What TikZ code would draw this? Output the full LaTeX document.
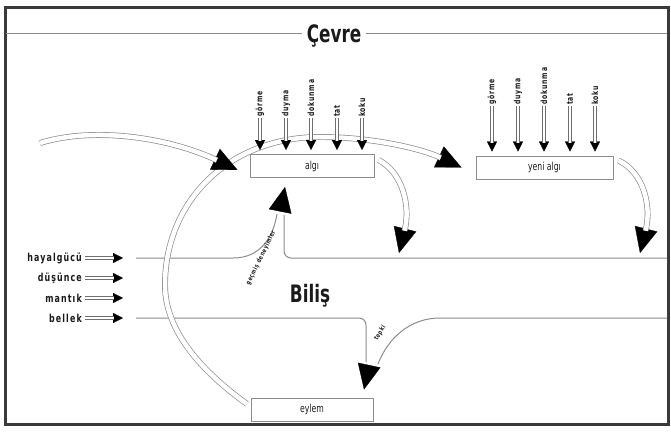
\documentclass[tikz,border=0pt]{standalone}
\usepackage{fontspec}
\setmainfont{DejaVu Sans Condensed}[FakeStretch=0.78]
\newfontfamily\spacedfont{DejaVu Sans Condensed}[FakeStretch=0.8, LetterSpace=10]
\usetikzlibrary{calc, arrows.meta, positioning}
\definecolor{cline}{HTML}{8C8C8C}
\definecolor{cshaft}{HTML}{6E6E6E}
\definecolor{cframe}{HTML}{3A3A3A}
\definecolor{cbk}{HTML}{1A1A1A}

\begin{document}
\begin{tikzpicture}[x=1pt, y=-1pt]
    \useasboundingbox (0,0) rectangle (671,431);
    \begin{scope}[
        stagebox/.style={rectangle, draw=cline, line width=0.9pt, fill=white, minimum height=23pt, inner sep=0pt, font=\fontsize{11}{13}\selectfont\color{cbk}},
        titlelabel/.style={font=\fontsize{24}{28}\selectfont\bfseries\color{cbk}, inner sep=0pt},
        senselabel/.style={font=\spacedfont\fontsize{8.5}{10}\selectfont\bfseries\color{cbk}, rotate=90, anchor=west, inner sep=1pt},
        inputlabel/.style={font=\spacedfont\fontsize{11}{13}\selectfont\bfseries\color{cbk}, anchor=east, inner sep=1pt},
        flowlabel/.style={font=\spacedfont\fontsize{6.5}{8}\selectfont\bfseries\color{cbk}, inner sep=0pt},
        wall/.style={draw=cline, line width=1pt, rounded corners=7pt},
        hollow/.style={draw=cline, line width=0.7pt, double=white, double distance=4.5pt, shorten >=23pt,
            preaction={draw=black, line width=0.3pt, shorten >=0pt, -{Triangle[length=25pt, width=23pt]}}},
        thinhollow/.style={draw=cshaft, line width=0.8pt, double=white, double distance=2.2pt, shorten >=9pt,
            preaction={draw=black, line width=0.3pt, shorten >=0pt, -{Triangle[length=10pt, width=10pt]}}},
        bigtip/.style={draw=black, line width=0.3pt, -{Triangle[length=25pt, width=23pt]}}
    ]
        % ================= frame and title =================
        \draw[cframe, line width=3pt] (5,7) rectangle (668,424);
        \draw[cline, line width=0.8pt] (6,33) -- (667,33);
        \node[titlelabel, fill=white, inner xsep=5pt, anchor=base] (cevre) at (334,42) {Çevre};

        % ================= boxes =================
        \node[stagebox, minimum width=124pt] (algi) at (312,166) {algı};
        \node[stagebox, minimum width=137pt] (yeni) at (544.5,167.5) {yeni algı};
        \node[stagebox, minimum width=122pt] (eylem) at (312,409.5) {eylem};

        \coordinate (inTip) at ($(algi.west)+(-12,4)$);
        \coordinate (ringTip) at ($(yeni.west)+(-14,0)$);
        \coordinate (pastTip) at ($(algi.south)+(-27,9)$);
        \coordinate (tepkiTip) at ($(eylem.north)+(52,-8)$);
        \coordinate (algiTip) at (399,253);
        \coordinate (yeniTip) at (640,253);

        % ================= Biliş channel =================
        \draw[wall] (136,258) -- (226,258) .. controls (260,258) and (273,238) .. (277,214);
        \draw[wall] (284,215) -- (284,258) -- (667,258);
        \draw[wall] (136,318) -- (366,318) -- (366,362);
        \draw[wall] (667,318) -- (447,318) .. controls (410,318) and (388,338) .. (378,364);
        \node[titlelabel, anchor=base] (bilis) at (310,302) {Biliş};
        \node[flowlabel, rotate=64] (past) at (261,258) {geçmiş deneyimler};
        \node[flowlabel, rotate=58] (tepki) at (380,333) {tepki};
        \draw[bigtip] (280,212) -- (pastTip);
        \draw[bigtip] (369,366) -- (tepkiTip);

        % ================= perception cycle =================
        \draw[hollow] (247,404) .. controls (200,370) and (165,330) .. (165,285)
            .. controls (165,200) and (230,137) .. (320,137)
            .. controls (370,137) and (420,148) .. (ringTip);
        \draw[hollow] (40,143) .. controls (95,126) and (170,138) .. (inTip);
        \draw[hollow] ($(algi.east)+(4,-6)$) .. controls (402,172) and (411,205) .. (algiTip);
        \draw[hollow] ($(yeni.east)+(5,-7)$) .. controls (643,172) and (652,205) .. (yeniTip);

        % boxes again on top of the ring
        \node[stagebox, minimum width=124pt] at (algi) {algı};
        \node[stagebox, minimum width=137pt] at (yeni) {yeni algı};

        % ================= senses =================
        \foreach \sense/\ax/\yx [count=\i] in {görme/260/492,duyma/286/518,dokunma/311/544,tat/337/570,koku/362/595} {
            \node[senselabel] (a\i) at (\ax,118) {\sense};
            \draw[thinhollow] (a\i.west) -- ([yshift=4pt]a\i.west |- algi.north);
            \node[senselabel] (y\i) at (\yx,106) {\sense};
            \draw[thinhollow] (y\i.west) -- ([yshift=4pt]y\i.west |- yeni.north);
        }

        % ================= inputs =================
        \foreach \inp/\yy [count=\i] in {hayalgücü/258,düşünce/278,mantık/298,bellek/318} {
            \node[inputlabel] (in\i) at (83,\yy) {\inp};
            \draw[thinhollow] ([xshift=2pt]in\i.east) -- (123,\yy);
        }
    \end{scope}
\end{tikzpicture}
\end{document}
